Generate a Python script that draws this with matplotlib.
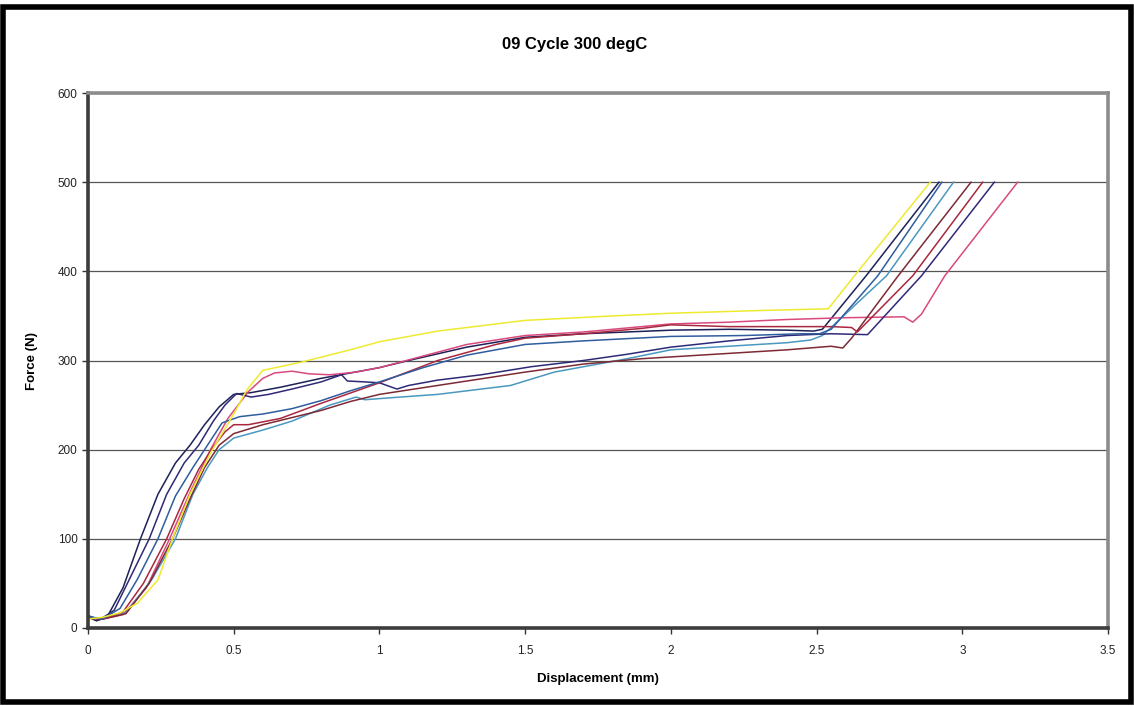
import matplotlib
matplotlib.use("Agg")
import matplotlib.pyplot as plt
from matplotlib.patches import Rectangle

plt.rcParams['font.family'] = ['Liberation Sans', 'DejaVu Sans']

title = "09 Cycle 300 degC"
x_label = "Displacement (mm)"
y_label = "Force (N)"
x_ticks = [0, 0.5, 1, 1.5, 2, 2.5, 3, 3.5]
x_tick_labels = ["0", "0.5", "1", "1.5", "2", "2.5", "3", "3.5"]
y_ticks = [0, 100, 200, 300, 400, 500, 600]

# Force-displacement readings for each specimen (mm, N)
s1_x = [0, 0.03, 0.07, 0.12, 0.18, 0.24, 0.30, 0.35, 0.40, 0.45, 0.50, 0.56, 0.66, 0.80, 0.90,
        1.00, 1.10, 1.30, 1.50, 1.70, 2.00, 2.20, 2.40, 2.49, 2.52, 2.67, 2.92]
s1_y = [12, 8, 15, 45, 100, 150, 185, 205, 228, 248, 262, 264, 270, 280, 286,
        292, 300, 315, 326, 330, 334, 335, 334, 333, 335, 395, 500]

s2_x = [0, 0.05, 0.12, 0.20, 0.28, 0.35, 0.42, 0.48, 0.55, 0.60, 0.64, 0.70, 0.76, 0.83, 0.92,
        1.00, 1.15, 1.30, 1.50, 1.70, 1.90, 2.00, 2.20, 2.40, 2.60, 2.80, 2.83, 2.86, 2.94, 3.19]
s2_y = [12, 10, 15, 45, 100, 152, 200, 235, 265, 280, 286, 288, 285, 284, 287,
        292, 305, 318, 328, 332, 338, 341, 343, 346, 348, 349, 343, 352, 395, 500]

s3_x = [0, 0.05, 0.11, 0.17, 0.24, 0.29, 0.35, 0.42, 0.50, 0.545, 0.60, 0.73, 0.90, 1.00,
        1.20, 1.50, 1.80, 2.00, 2.30, 2.54, 2.63, 2.89]
s3_y = [10, 12, 17, 28, 54, 100, 150, 196, 240, 267, 289, 298, 312, 321,
        333, 345, 350, 353, 356, 358, 395, 500]

s4_x = [0, 0.05, 0.13, 0.22, 0.30, 0.36, 0.41, 0.45, 0.50, 0.60, 0.70, 0.83, 0.92, 0.95,
        1.03, 1.20, 1.30, 1.45, 1.60, 1.85, 2.00, 2.20, 2.40, 2.48, 2.52, 2.74, 2.97]
s4_y = [12, 11, 17, 55, 100, 150, 180, 200, 213, 222, 232, 250, 259, 256,
        258, 262, 266, 272, 287, 302, 312, 316, 320, 323, 328, 395, 500]

s5_x = [0, 0.04, 0.09, 0.15, 0.21, 0.27, 0.33, 0.38, 0.43, 0.47, 0.51, 0.56, 0.62, 0.70,
        0.80, 0.87, 0.89, 0.95, 1.00, 1.06, 1.10, 1.20, 1.35, 1.52, 1.70, 1.85, 2.00,
        2.20, 2.40, 2.55, 2.675, 2.86, 3.11]
s5_y = [14, 9, 20, 60, 100, 150, 185, 205, 232, 250, 263, 259, 262, 268,
        276, 284, 277, 276, 275, 268, 272, 278, 284, 293, 300, 307, 315,
        322, 328, 330, 329, 395, 500]

s6_x = [0, 0.05, 0.13, 0.21, 0.29, 0.35, 0.40, 0.45, 0.50, 0.60, 0.70, 0.80, 0.90, 1.00,
        1.20, 1.40, 1.50, 1.70, 1.90, 2.00, 2.20, 2.40, 2.55, 2.59, 2.62, 2.78, 3.03]
s6_y = [11, 10, 16, 50, 100, 145, 180, 205, 218, 228, 236, 244, 254, 262,
        272, 282, 287, 296, 302, 304, 308, 312, 316, 314, 325, 395, 500]

s7_x = [0, 0.05, 0.12, 0.19, 0.27, 0.33, 0.38, 0.43, 0.47, 0.50, 0.55, 0.66, 0.80, 1.00,
        1.20, 1.40, 1.50, 1.70, 1.90, 2.00, 2.20, 2.40, 2.55, 2.62, 2.64, 2.83, 3.07]
s7_y = [12, 10, 18, 50, 100, 145, 178, 203, 220, 228, 228, 235, 252, 275,
        300, 318, 325, 330, 336, 340, 338, 338, 338, 337, 332, 395, 500]

s8_x = [0, 0.05, 0.11, 0.17, 0.24, 0.30, 0.36, 0.41, 0.46, 0.52, 0.60, 0.70, 0.80, 0.90,
        1.00, 1.15, 1.30, 1.50, 1.70, 2.00, 2.25, 2.45, 2.51, 2.55, 2.71, 2.93]
s8_y = [13, 10, 22, 55, 100, 148, 180, 205, 230, 237, 240, 246, 255, 266,
        276, 292, 306, 318, 322, 327, 328, 330, 330, 335, 395, 500]

series = [
    (s1_x, s1_y, "#1d2157"),
    (s2_x, s2_y, "#d9497e"),
    (s4_x, s4_y, "#4a98c0"),
    (s5_x, s5_y, "#2e2a78"),
    (s6_x, s6_y, "#7d2a35"),
    (s7_x, s7_y, "#a8283f"),
    (s8_x, s8_y, "#2f5d9e"),
    (s3_x, s3_y, "#eeea30"),
]

fig = plt.figure(figsize=(11.34, 7.06), dpi=100)
fig.patch.set_facecolor("white")
ax = fig.add_axes([88 / 1134, 1 - 628 / 706, (1108 - 88) / 1134, (628 - 93) / 706])

for xs, ys, col in series:
    ax.plot(xs, ys, color=col, lw=1.1, solid_joinstyle="round")

ax.set_xlim(0, 3.5)
ax.set_ylim(0, 600)
ax.set_xticks(x_ticks)
ax.set_xticklabels(x_tick_labels)
ax.set_yticks(y_ticks)
ax.yaxis.grid(True, color="#555555", lw=0.9)
ax.set_axisbelow(True)

for side in ("left", "bottom"):
    ax.spines[side].set_color("#3c3c3c")
    ax.spines[side].set_linewidth(2.6)
for side in ("top", "right"):
    ax.spines[side].set_color("#8c8c8c")
    ax.spines[side].set_linewidth(2.6)

ax.tick_params(axis="both", direction="out", length=4, width=1, color="#333333",
               labelsize=8.5, labelcolor="#222222")
ax.tick_params(axis="x", pad=8)

ax.set_xlabel(x_label, fontsize=9.5, fontweight="bold", labelpad=12)
ax.set_ylabel(y_label, fontsize=9.5, fontweight="bold", labelpad=14)
fig.text(575 / 1134, 1 - 45 / 706, title, fontsize=12, fontweight="bold",
         ha="center", va="center")

# outer chart border
fig.patches.append(Rectangle((0.003, 0.006), 0.994, 0.984, transform=fig.transFigure,
                             fill=False, edgecolor="black", lw=4))

fig.savefig("out.png", dpi=100)
